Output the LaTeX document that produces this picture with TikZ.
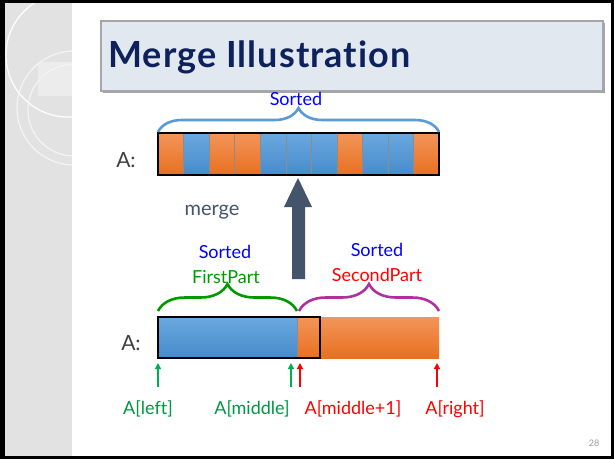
\documentclass[tikz,border=0pt]{standalone}
\usepackage{fontspec}
\setmainfont{Lato}[Ligatures=NoCommon]
\newfontfamily\titlefont{Lato}[LetterSpace=3, Ligatures=NoCommon]
\usetikzlibrary{positioning, arrows.meta, decorations.pathreplacing}
\definecolor{TitleNavy}{HTML}{0D215C}
\definecolor{TitleFill}{HTML}{E2E8F0}
\definecolor{cellOtop}{HTML}{F3955A}
\definecolor{cellObot}{HTML}{E8701F}
\definecolor{cellBtop}{HTML}{6AA8E0}
\definecolor{cellBbot}{HTML}{478BCB}
\definecolor{ArrowSlate}{HTML}{44546A}
\definecolor{BraceBlue}{HTML}{5B9BD5}
\definecolor{BraceGreen}{HTML}{009A00}
\definecolor{BraceMagenta}{HTML}{B0309E}
\definecolor{PtrGreen}{HTML}{00B050}
\definecolor{StripGray}{HTML}{E2E2E2}
\definecolor{LabelGray}{HTML}{404040}

\begin{document}
\begin{tikzpicture}[x=1pt, y=-1pt,
    cell/.style={draw=black!45, line width=0.4pt, minimum width=25.55pt, minimum height=42pt, inner sep=0pt, outer sep=0pt, anchor=north west},
    brc/.style={decorate, decoration={brace, amplitude=#1}, line width=2.6pt},
    ptr/.style={-{Triangle[length=6pt, width=6pt]}, line width=1.3pt},
    txt/.style={font=\fontsize{18}{20}\selectfont, inner sep=0pt}]
    \useasboundingbox (0,0) rectangle (614,459);
    % Frame and side strip
    \fill[black] (0,0) rectangle (614,459);
    \fill[white] (5,3) rectangle (611,456);
    \fill[StripGray] (5,3) rectangle (72,456);
    \begin{scope}
        \clip (5,3) rectangle (72,456);
        \fill[white, opacity=0.35] (38,62) rectangle (72,96);
        \draw[white, line width=1.2pt] (68,55) circle[radius=62pt];
        \draw[white!60!StripGray, line width=1.2pt] (74,108) circle[radius=57pt];
        \draw[white!60!StripGray, line width=1.2pt] (74,110) circle[radius=46pt];
    \end{scope}

    % Title
    \fill[black!35] (103,23) rectangle (605,93);
    \node[draw=black!35, line width=1.5pt, fill=TitleFill, minimum width=502pt, minimum height=70pt, anchor=north west, inner sep=0pt] (titlebox) at (100,20) {};
    \node[anchor=base west, inner sep=0pt, text=TitleNavy, font=\titlefont\fontsize{36}{38}\selectfont\bfseries] (title) at (108,67) {Merge Illustration};

    % Sorted array
    \foreach \c [count=\i from 0] in {O,B,O,O,B,B,B,O,B,B,O}
        \node[cell, top color=cell\c top, bottom color=cell\c bot] (top\i) at ({158+25.55*\i},133) {};
    \draw[line width=1.2pt] (top0.north west) rectangle (top10.south east);
    \draw[brc=24pt, BraceBlue] ([yshift=1pt]top0.north west) -- ([yshift=1pt]top10.north east);
    \node[txt, text=blue] (sortedtop) at (296,99) {Sorted};
    \node[txt, text=LabelGray, font=\fontsize{21}{23}\selectfont] (atop) at (126,160) {A:};

    % Merge arrow
    \fill[ArrowSlate] (292,279) -- (292,207) -- (284,207) -- (298,178) -- (312,207) -- (305,207) -- (305,279) -- cycle;
    \node[txt, text=ArrowSlate, font=\fontsize{20}{22}\selectfont] (merge) at (212,212) {merge};

    % Two sorted halves
    \node[cell, top color=cellBtop, bottom color=cellBbot, minimum width=17pt, minimum height=41pt] (fsmall) at (158,317) {};
    \node[cell, draw=none, top color=cellBtop, bottom color=cellBbot, minimum width=122pt, minimum height=41pt] (fbig) at (175,317) {};
    \node[cell, top color=cellOtop, bottom color=cellObot, minimum width=23pt, minimum height=41pt] (ssmall) at (297,317) {};
    \node[cell, draw=none, top color=cellOtop, bottom color=cellObot, minimum width=119pt, minimum height=41pt] (sbig) at (320,317) {};
    \draw[line width=1.2pt] (fsmall.north west) rectangle (ssmall.south east);
    \draw[brc=27pt, BraceGreen] ([yshift=6pt]fsmall.north west) -- ([yshift=6pt]fbig.north east);
    \draw[brc=27pt, BraceMagenta] ([xshift=2pt, yshift=6pt]ssmall.north west) -- ([yshift=6pt]sbig.north east);
    \node[txt, text=blue] (sortedleft) at (225,252) {Sorted};
    \node[txt, text=BraceGreen] (firstpart) at (226,277) {FirstPart};
    \node[txt, text=blue] (sortedright) at (377,250) {Sorted};
    \node[txt, text=red] (secondpart) at (377,275) {SecondPart};
    \node[txt, text=LabelGray, font=\fontsize{21}{23}\selectfont] (abottom) at (131,343) {A:};

    % Index pointers
    \coordinate (tailL) at (158,387);
    \coordinate (tailM) at (291,387);
    \coordinate (tailN) at (300,387);
    \coordinate (tailR) at (437,387);
    \draw[ptr, PtrGreen] (tailL) -- ++(0,-24);
    \draw[ptr, PtrGreen] (tailM) -- ++(0,-24);
    \draw[ptr, red] (tailN) -- ++(0,-24);
    \draw[ptr, red] (tailR) -- ++(0,-24);
    \node[txt, text=PtrGreen!85!black] (aleft) at (148,409) {A[left]};
    \node[txt, text=PtrGreen!85!black] (amiddle) at (252,409) {A[middle]};
    \node[txt, text=red] (amiddlenext) at (353,409) {A[middle+1]};
    \node[txt, text=red] (aright) at (455,409) {A[right]};

    \node[text=black!40, font=\fontsize{9}{10}\selectfont, inner sep=0pt] (pagenum) at (594,443) {28};
\end{tikzpicture}
\end{document}
